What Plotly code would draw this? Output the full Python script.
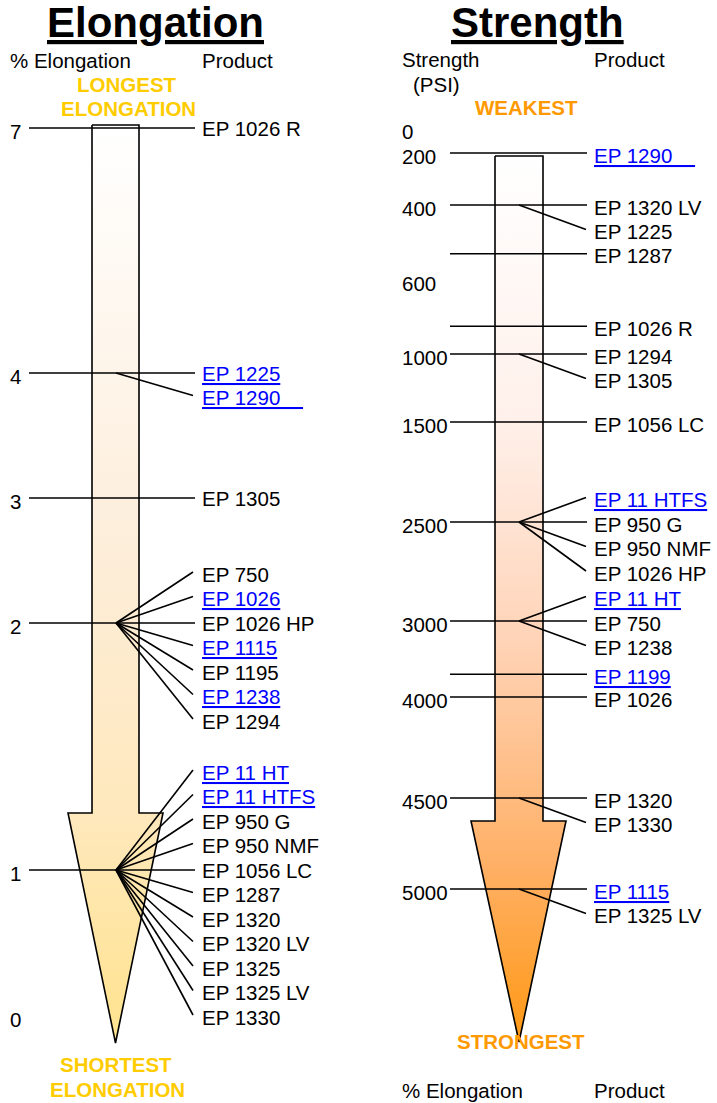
import numpy as np
import plotly.graph_objects as go

# ---------------- data ----------------
elong_tick_values = [7, 4, 3, 2, 1, 0]
elong_products = ["EP 1026 R", "EP 1225", "EP 1290", "EP 1305",
                  "EP 750", "EP 1026", "EP 1026 HP", "EP 1115", "EP 1195", "EP 1238", "EP 1294",
                  "EP 11 HT", "EP 11 HTFS", "EP 950 G", "EP 950 NMF", "EP 1056 LC", "EP 1287",
                  "EP 1320", "EP 1320 LV", "EP 1325", "EP 1325 LV", "EP 1330"]
elong_values = [7, 4, 4, 3,
                2, 2, 2, 2, 2, 2, 2,
                1, 1, 1, 1, 1, 1, 1, 1, 1, 1, 1]
elong_linked = ["EP 1225", "EP 1290", "EP 1026", "EP 1115", "EP 1238", "EP 11 HT", "EP 11 HTFS"]

strength_tick_values = [0, 200, 400, 600, 1000, 1500, 2500, 3000, 4000, 4500, 5000]
strength_products = ["EP 1290", "EP 1320 LV", "EP 1225", "EP 1287", "EP 1026 R", "EP 1294", "EP 1305",
                     "EP 1056 LC", "EP 11 HTFS", "EP 950 G", "EP 950 NMF", "EP 1026 HP", "EP 11 HT",
                     "EP 750", "EP 1238", "EP 1199", "EP 1026", "EP 1320", "EP 1330", "EP 1115", "EP 1325 LV"]
strength_values = [200, 400, 400, 530, 850, 1000, 1000,
                   1500, 2500, 2500, 2500, 2500, 3000,
                   3000, 3000, 3700, 4000, 4500, 4500, 5000, 5000]
strength_linked = ["EP 1290", "EP 11 HTFS", "EP 11 HT", "EP 1199", "EP 1115"]

# ---------------- layout / style ----------------
W, H = 717, 1103
ROW = 24.5
FONT = "Liberation Sans, Arial, sans-serif"
FS = 20.5
GOLD = "#FFCC00"
ORANGE = "#FF9900"
LINK = "#0000FF"
DX = -2  # annotation padding compensation

panels = [
    dict(name="Elongation", title_x=155,
         values=elong_values, products=elong_products, linked=elong_linked, ticks=elong_tick_values,
         scale_vals=[0, 1, 2, 3, 4, 7], scale_px=[1016, 870, 623, 498, 373, 128],
         origin_x=116, end_x=193, label_x=202, line_x0=29, line_x1=195, tick_x=10, text_dy=0,
         above={2: 2, 1: 4}, shaft=(92, 139), head=(68, 163), top=125, neck=813, tip=1043,
         grad=[[0, "#FFFFFF"], [0.45, "#FDEEDB"], [0.75, "#FFE8BC"], [1, "#FFE38E"]]),
    dict(name="Strength", title_x=537,
         values=strength_values, products=strength_products, linked=strength_linked, ticks=strength_tick_values,
         scale_vals=[0, 200, 400, 600, 1000, 1500, 2500, 3000, 4000, 4500, 5000],
         scale_px=[128, 153, 205, 280, 354, 422, 522, 621, 697, 798, 889],
         origin_x=519, end_x=586, label_x=594, line_x0=450, line_x1=587, tick_x=402, text_dy=2,
         above={2500: 1, 3000: 1}, shaft=(495, 543), head=(471, 566), top=156, neck=821, tip=1042,
         grad=[[0, "#FFFFFF"], [0.3, "#FFF0EA"], [0.55, "#FFD3B6"], [0.8, "#FFB066"], [1, "#FF9914"]]),
]

fig = go.Figure()
annotations = []


def txt(x, y, s, color="black", size=FS, anchor="left", bold=False):
    if bold:
        s = "<b>" + s + "</b>"
    annotations.append(dict(x=x + (DX if anchor == "left" else 0), y=y, xref="x", yref="y",
                            text=s, showarrow=False, xanchor=anchor, yanchor="middle",
                            font=dict(family=FONT, size=size, color=color)))


for p in panels:
    def scale(v, p=p):
        return float(np.interp(v, p["scale_vals"], p["scale_px"]))

    # arrow
    sx0, sx1 = p["shaft"]
    hx0, hx1 = p["head"]
    cx = (sx0 + sx1) / 2
    ax = [sx0, sx1, sx1, hx1, cx, hx0, sx0, sx0]
    ay = [p["top"], p["top"], p["neck"], p["neck"], p["tip"], p["neck"], p["neck"], p["top"]]
    fig.add_trace(go.Scatter(x=ax, y=ay, mode="lines", fill="toself",
                             line=dict(color="black", width=1.6),
                             fillgradient=dict(type="vertical", colorscale=p["grad"],
                                               start=p["top"], stop=p["tip"]),
                             hoverinfo="skip", showlegend=False))

    # group products by value (keep order)
    groups = {}
    for prod, v in zip(p["products"], p["values"]):
        groups.setdefault(v, []).append(prod)

    lx, ly = [], []
    for v, prods in groups.items():
        y0 = scale(v)
        lx += [p["line_x0"], p["line_x1"], None]
        ly += [y0, y0, None]
        n_above = p["above"].get(v, 0)
        for k, prod in enumerate(prods):
            r = k - n_above
            yl = y0 + r * ROW + p["text_dy"]
            if r != 0:
                lx += [p["origin_x"], p["end_x"], None]
                ly += [y0, yl - 2, None]
            if prod in p["linked"]:
                extra = "\u00a0" * 4 if prod == "EP 1290" else ""
                txt(p["label_x"], yl, "<u>" + prod + extra + "</u>", color=LINK)
            else:
                txt(p["label_x"], yl, prod)
    fig.add_trace(go.Scatter(x=lx, y=ly, mode="lines", line=dict(color="black", width=1.6),
                             hoverinfo="skip", showlegend=False))

    for t in p["ticks"]:
        txt(p["tick_x"], scale(t) + 3, str(t))

    # title
    txt(p["title_x"], 22, "<u>" + p["name"] + "</u>", size=42, anchor="center", bold=True)

# headers
txt(10, 60, "% Elongation")
txt(202, 60, "Product")
txt(402, 59, "Strength")
txt(413, 84, "(PSI)")
txt(594, 59, "Product")
txt(127, 84, "LONGEST", color=GOLD, bold=True, anchor="center")
txt(128, 108, "ELONGATION", color=GOLD, bold=True, anchor="center")
txt(116, 1064, "SHORTEST", color=GOLD, bold=True, anchor="center")
txt(117, 1089, "ELONGATION", color=GOLD, bold=True, anchor="center")
txt(526, 107, "WEAKEST", color=ORANGE, bold=True, anchor="center")
txt(521, 1041, "STRONGEST", color=ORANGE, bold=True, anchor="center")
txt(402, 1090, "% Elongation")
txt(594, 1090, "Product")

fig.update_layout(
    width=W, height=H, margin=dict(l=0, r=0, t=0, b=0),
    paper_bgcolor="white", plot_bgcolor="white",
    xaxis=dict(range=[0, W], visible=False, fixedrange=True),
    yaxis=dict(range=[H, 0], visible=False, fixedrange=True),
    annotations=annotations, showlegend=False,
)
fig.write_html("out.html", config={"displayModeBar": False},
               post_script="document.body.style.margin='0';document.body.style.overflow='hidden';")
